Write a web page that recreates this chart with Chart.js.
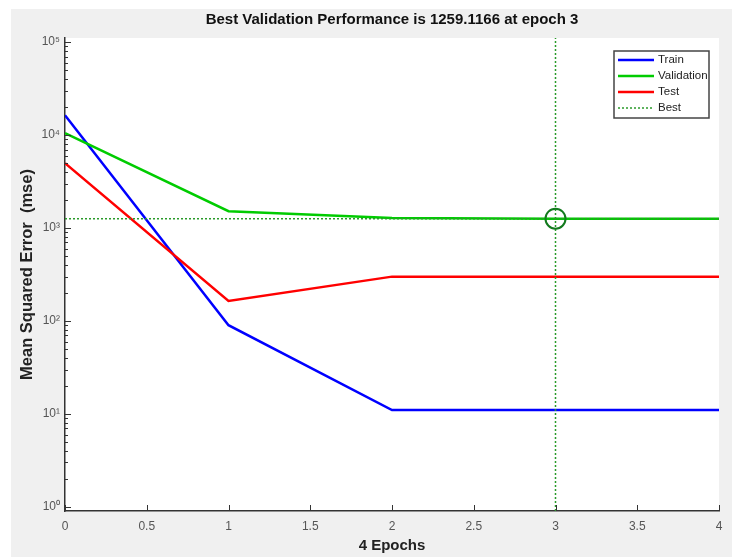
<!DOCTYPE html>
<html>
<head>
<meta charset="utf-8">
<script src="https://cdn.jsdelivr.net/npm/chart.js@4.4.1/dist/chart.umd.min.js"></script>
<style>
html, body { margin: 0; padding: 0; background: #fff; }
#wrap { position: absolute; left: 11px; top: 9px; width: 721px; height: 548px; background: #f0f0f0; }
</style>
</head>
<body>
<div id="wrap"><canvas id="perfChart" width="721" height="548"></canvas></div>
<script>
// Performance values per epoch
const epochs = [0, 1, 2, 3, 4];
const trainMse = [16400, 90, 11, 11, 11];
const validationMse = [10500, 1520, 1280, 1259.1166, 1259.1166];
const testMse = [5000, 164, 300, 300, 300];
const bestEpoch = 3;
const bestValue = 1259.1166;

// Axis ranges and tick labels
const xMin = 0, xMax = 4;
const yMin = Math.pow(10, -0.045), yMax = Math.pow(10, 5.045);
const yMajorValues = [1, 10, 100, 1000, 10000, 100000];
const yTickLabels = ['10\u2070', '10\u00b9', '10\u00b2', '10\u00b3', '10\u2074', '10\u2075'];
const xTickValues = [0, 0.5, 1, 1.5, 2, 2.5, 3, 3.5, 4];
const xTickLabels = ['0', '0.5', '1', '1.5', '2', '2.5', '3', '3.5', '4'];

const FONT = '"Liberation Sans", Arial, sans-serif';

function toPoints(values) {
    return epochs.map((e, i) => ({ x: e, y: values[i] }));
}

// all minor ticks 1..9 per decade, like the MATLAB log axis
const yTickValues = [];
for (let n = 0; n < 5; n++) {
    for (let k = 1; k <= 9; k++) yTickValues.push(k * Math.pow(10, n));
}
yTickValues.push(100000);

// white plot area
const plotBackground = {
    id: 'plotBackground',
    beforeDraw(chart) {
        const { ctx, chartArea: a } = chart;
        ctx.save();
        ctx.fillStyle = '#ffffff';
        ctx.fillRect(a.left, a.top, a.right - a.left, a.bottom - a.top);
        ctx.restore();
    }
};

// center the title over the plot area, not the whole canvas
const titleOverPlot = {
    id: 'titleOverPlot',
    afterLayout(chart) {
        if (chart.titleBlock) {
            chart.titleBlock.left = chart.chartArea.left;
            chart.titleBlock.right = chart.chartArea.right;
        }
    }
};

// tick marks pointing into the plot
const inwardTicks = {
    id: 'inwardTicks',
    afterDraw(chart) {
        const { ctx, chartArea: a, scales: { x, y } } = chart;
        ctx.save();
        ctx.strokeStyle = '#333';
        ctx.lineWidth = 1;
        ctx.beginPath();
        y.ticks.forEach(t => {
            const py = Math.round(y.getPixelForValue(t.value)) + 0.5;
            const len = yMajorValues.includes(t.value) ? 6 : 3;
            ctx.moveTo(a.left, py);
            ctx.lineTo(a.left + len, py);
        });
        x.ticks.forEach(t => {
            const px = Math.round(x.getPixelForValue(t.value)) + 0.5;
            ctx.moveTo(px, a.bottom);
            ctx.lineTo(px, a.bottom - 6);
        });
        ctx.stroke();
        ctx.restore();
    }
};

// boxed legend in the upper right of the plot
const boxLegend = {
    id: 'boxLegend',
    afterDraw(chart) {
        const { ctx, chartArea: a } = chart;
        const items = chart.data.datasets.filter(d => d.inLegend);
        const boxW = 95, boxH = 67;
        const bx = a.right - 10 - boxW, by = a.top + 13;
        ctx.save();
        ctx.fillStyle = '#fff';
        ctx.fillRect(bx, by, boxW, boxH);
        ctx.strokeStyle = '#444';
        ctx.lineWidth = 1.5;
        ctx.strokeRect(bx, by, boxW, boxH);
        ctx.font = '11.5px ' + FONT;
        ctx.textBaseline = 'middle';
        items.forEach((d, i) => {
            const ly = by + 9 + i * 16;
            ctx.strokeStyle = d.borderColor;
            ctx.lineWidth = d.borderWidth;
            ctx.setLineDash(d.borderDash || []);
            ctx.beginPath();
            ctx.moveTo(bx + 4, ly);
            ctx.lineTo(bx + 40, ly);
            ctx.stroke();
            ctx.setLineDash([]);
            ctx.fillStyle = '#222';
            ctx.fillText(d.label, bx + 44, ly);
        });
        ctx.restore();
    }
};

const ctx = document.getElementById('perfChart').getContext('2d');

new Chart(ctx, {
    type: 'line',
    data: {
        datasets: [
            {
                label: 'Train', data: toPoints(trainMse), inLegend: true,
                borderColor: '#0000ff', borderWidth: 2.5, pointRadius: 0, order: 4
            },
            {
                label: 'Validation', data: toPoints(validationMse), inLegend: true,
                borderColor: '#00cc00', borderWidth: 2.5, pointRadius: 0, order: 3
            },
            {
                label: 'Test', data: toPoints(testMse), inLegend: true,
                borderColor: '#ff0000', borderWidth: 2.5, pointRadius: 0, order: 2
            },
            {
                label: 'Best', data: [{ x: xMin, y: bestValue }, { x: xMax, y: bestValue }], inLegend: true,
                borderColor: '#2a9a2a', borderWidth: 1.5, borderDash: [2, 2], pointRadius: 0, order: 1
            },
            {
                label: 'Best epoch', data: [{ x: bestEpoch, y: yMin }, { x: bestEpoch, y: yMax }],
                borderColor: '#2a9a2a', borderWidth: 1.5, borderDash: [2, 2], pointRadius: 0, order: 1
            },
            {
                label: 'Best point', data: [{ x: bestEpoch, y: bestValue }], showLine: false,
                pointRadius: 10, pointBorderWidth: 2, pointBorderColor: '#137a1e',
                pointBackgroundColor: 'rgba(0,0,0,0)', order: 0
            }
        ]
    },
    options: {
        responsive: false,
        animation: false,
        layout: { padding: { left: 0, right: 13, top: 0, bottom: 0 } },
        plugins: {
            legend: { display: false },
            tooltip: { enabled: false },
            title: {
                display: true,
                text: 'Best Validation Performance is 1259.1166 at epoch 3',
                color: '#111',
                font: { family: FONT, size: 15, weight: 'bold' },
                padding: { top: 2, bottom: 9 }
            }
        },
        scales: {
            x: {
                type: 'linear',
                min: xMin,
                max: xMax,
                grid: { display: false, drawTicks: false },
                border: { display: true, color: '#333', width: 1.5 },
                afterBuildTicks: scale => { scale.ticks = xTickValues.map(v => ({ value: v })); },
                afterFit: scale => { scale.height = 46; },
                ticks: {
                    autoSkip: false,
                    maxRotation: 0,
                    padding: 8,
                    color: '#555',
                    font: { family: FONT, size: 12 },
                    callback: function(value) {
                        const i = xTickValues.indexOf(value);
                        return i >= 0 ? xTickLabels[i] : '';
                    }
                },
                title: {
                    display: true,
                    text: '4 Epochs',
                    color: '#222',
                    font: { family: FONT, size: 15, weight: 'bold' },
                    padding: { top: 0, bottom: 2 }
                }
            },
            y: {
                type: 'logarithmic',
                min: yMin,
                max: yMax,
                grid: { display: false, drawTicks: false },
                border: { display: true, color: '#333', width: 1.5 },
                afterBuildTicks: scale => { scale.ticks = yTickValues.map(v => ({ value: v })); },
                afterFit: scale => { scale.width = 54; },
                ticks: {
                    autoSkip: false,
                    padding: 5,
                    color: '#555',
                    font: { family: FONT, size: 12 },
                    callback: function(value) {
                        const i = yMajorValues.indexOf(value);
                        return i >= 0 ? yTickLabels[i] : '';
                    }
                },
                title: {
                    display: true,
                    text: 'Mean Squared Error  (mse)',
                    color: '#222',
                    font: { family: FONT, size: 16.5, weight: 'bold' },
                    padding: { top: 7, bottom: 0 }
                }
            }
        }
    },
    plugins: [plotBackground, titleOverPlot, inwardTicks, boxLegend]
});
</script>
</body>
</html>
